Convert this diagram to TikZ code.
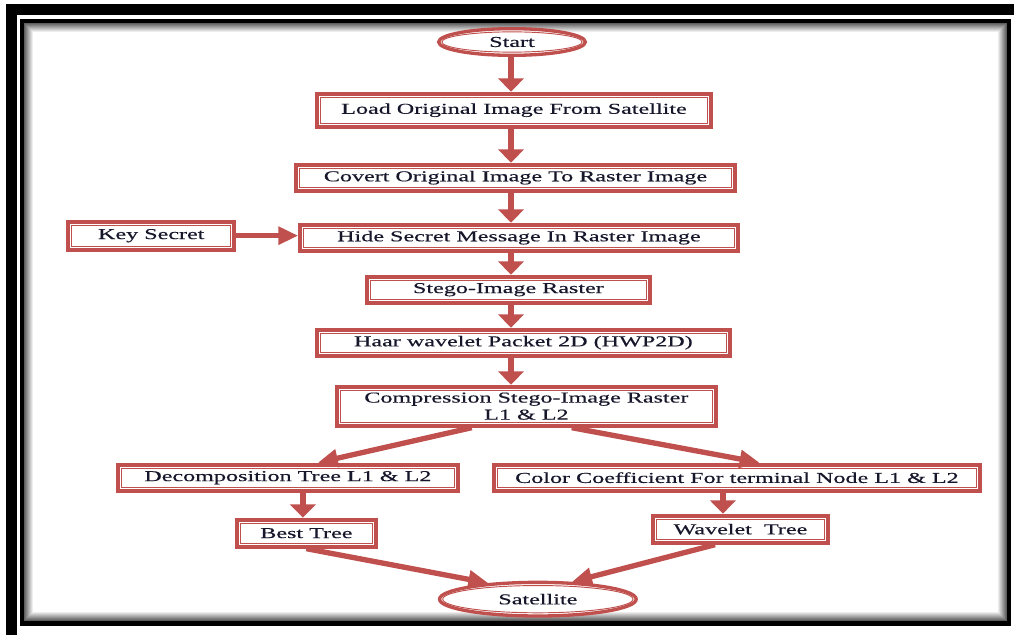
\documentclass[tikz,border=0pt]{standalone}
\usepackage{fontspec}
\setmainfont{Liberation Serif}[FakeStretch=1.6,FakeBold=0.4]
\usetikzlibrary{arrows.meta,positioning,shapes.geometric,calc}
\definecolor{Brick}{HTML}{C0504D}
\definecolor{Ink}{HTML}{17172B}

\begin{document}
\begin{tikzpicture}[x=0.75pt, y=-0.75pt,
  box/.style={draw=Brick, line width=3pt, fill=white, minimum height=19.5pt,
              inner sep=2pt, align=center, text=Ink,
              font=\fontsize{11.3}{12.8}\selectfont,
              path picture={\draw[Brick, line width=0.7pt]
                ([shift={(2.6pt,2.6pt)}]path picture bounding box.south west) rectangle
                ([shift={(-2.6pt,-2.6pt)}]path picture bounding box.north east);}},
  oval/.style={ellipse, draw=Brick, line width=2.5pt, fill=white, inner sep=0pt,
               text=Ink, font=\fontsize{11.3}{12.8}\selectfont,
               path picture={\draw[Brick, line width=0.7pt]
                 let \p1=(path picture bounding box.north east),
                     \p2=(path picture bounding box.center) in
                 (\p2) ellipse [x radius=\x1-\x2-2.4pt, y radius=\y1-\y2-2.4pt];}},
  flow/.style={draw=Brick, line width=5pt, -{Triangle[length=10pt,width=19pt]}},
  link/.style={draw=Brick, line width=4pt, -{Triangle[length=15pt,width=13pt]}}]

  \useasboundingbox (0,0) rectangle (1014,635);

  % page frame
  \draw[line width=8.25pt] (11.5,9.5) rectangle (1025,640.5);
  \draw[line width=3.4pt] (22.5,21) rectangle (1009,623.5);
  \foreach \i [evaluate=\i as \g using 70-7*\i] in {1,...,10}
    \draw[line width=0.8pt, black!\g] ({24+\i},{23+\i}) rectangle ({1007-\i},{621-\i});

  % main column
  \node[oval, minimum width=110pt, minimum height=20pt] (start) at (512,42) {Start};
  \node[box, minimum width=295.5pt, minimum height=24.75pt, below=26pt of start,
        xshift=1.5pt] (load) {Load Original Image From Satellite};
  \node[box, minimum width=329pt, below=25.5pt of load, xshift=1.1pt] (covert)
       {Covert Original Image To Raster Image};
  \node[box, minimum width=328pt, below=22.5pt of covert, xshift=2.6pt] (hide)
       {Hide Secret Message In Raster Image};
  \node[box, minimum width=124.5pt, minimum height=21pt, left=46.5pt of hide,
        yshift=1.5pt] (key) {Key Secret};
  \node[box, minimum width=212pt, below=16.5pt of hide, xshift=-7.9pt] (stego)
       {Stego-Image Raster};
  \node[box, minimum width=310pt, below=17.25pt of stego, xshift=11.25pt] (haar)
       {Haar wavelet Packet 2D (HWP2D)};
  \node[box, minimum width=284pt, minimum height=29.25pt, below=20.25pt of haar,
        xshift=2.25pt] (comp) {Compression Stego-Image Raster\\L1 \& L2};

  % two branches
  \node[box, minimum width=255pt, below=26.25pt of comp, xshift=-178.9pt] (decomp)
       {Decomposition Tree L1 \& L2};
  \node[box, minimum width=364.5pt, below=26.25pt of comp, xshift=157.9pt] (color)
       {Color Coefficient For terminal Node L1 \& L2};
  \node[box, minimum width=104pt, minimum height=20.25pt, below=18.75pt of decomp,
        xshift=13.9pt] (best) {Best Tree};
  \node[box, minimum width=131pt, minimum height=20.25pt, below=15.75pt of color,
        xshift=2.6pt] (wtree) {Wavelet~ Tree};
  \node[oval, minimum width=147.5pt, minimum height=25.25pt, below=24pt of best,
        xshift=173.6pt] (sat) {Satellite};

  % connectors
  \coordinate (axis) at (511,0);
  \foreach \a/\b in {start/load, load/covert, covert/hide, hide/stego, stego/haar, haar/comp}
    \draw[flow] (\a.south -| axis) -- (\b.north -| axis);
  \draw[link] (key.east) -- (key.east -| hide.west);
  \draw[link] ([xshift=-41pt]comp.south) -- ([xshift=22.5pt]decomp.north);
  \draw[link] ([xshift=34pt]comp.south) -- ([xshift=17pt]color.north);
  \draw[flow] ([xshift=11.25pt]decomp.south) -- ([xshift=11.25pt]decomp.south |- best.north);
  \draw[flow] ([xshift=-10.5pt]color.south) -- ([xshift=-10.5pt]color.south |- wtree.north);
  \draw[link] (best.south) -- (sat.162);
  \draw[link] ([xshift=-19pt]wtree.south) -- (sat.27);
\end{tikzpicture}
\end{document}
